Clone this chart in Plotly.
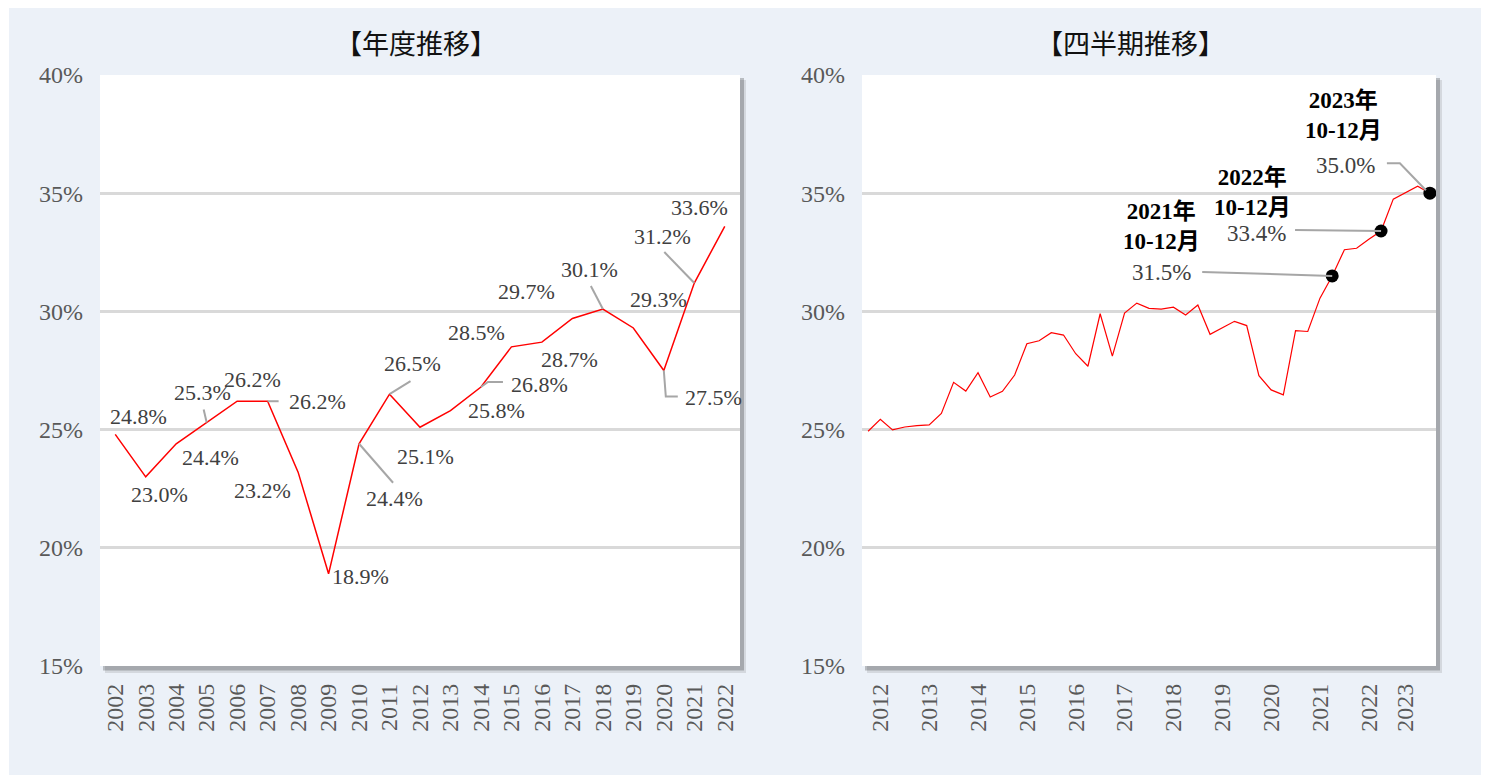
import plotly.graph_objects as go

W, H = 1490, 784

# ---------------- data ----------------
years = ["2002", "2003", "2004", "2005", "2006", "2007", "2008", "2009", "2010", "2011",
         "2012", "2013", "2014", "2015", "2016", "2017", "2018", "2019", "2020", "2021",
         "2022"]
annual = [24.8, 23.0, 24.4, 25.3, 26.2, 26.2, 23.2, 18.9, 24.4, 26.5, 25.1,
          25.8, 26.8, 28.5, 28.7, 29.7, 30.1, 29.3, 27.5, 31.2, 33.6]
annual_labels = [f"{v:.1f}%" for v in annual]

quarter_names = ["4-6月", "7-9月", "10-12月", "1-3月"]
quarters = []
for k in range(47):
    q = k % 4
    yr = 2012 + k // 4 + (1 if q == 3 else 0)
    quarters.append(f"{yr}年{quarter_names[q]}")
quarterly = [24.93, 25.44, 24.99, 25.11, 25.17, 25.20, 25.68, 27.00, 26.63, 27.41,
             26.38, 26.62, 27.31, 28.63, 28.76, 29.10, 29.00, 28.21, 27.68, 29.90,
             28.11, 29.93, 30.35, 30.13, 30.10, 30.18, 29.85, 30.27, 29.03, 29.31,
             29.58, 29.40, 27.28, 26.68, 26.47, 29.19, 29.15, 30.56, 31.50, 32.61,
             32.67, 33.05, 33.40, 34.75, 35.03, 35.30, 35.00]
q_tick_idx = [1, 5, 9, 13, 17, 21, 25, 29, 33, 37, 41, 44]
q_tick_text = ["2012", "2013", "2014", "2015", "2016", "2017", "2018", "2019",
               "2020", "2021", "2022", "2023"]
highlight_idx = [38, 42, 46]
highlight_titles = ["2021年<br>10-12月", "2022年<br>10-12月", "2023年<br>10-12月"]
highlight_labels = ["31.5%", "33.4%", "35.0%"]

y_ticks = [15, 20, 25, 30, 35, 40]
y_tick_text = ["15%", "20%", "25%", "30%", "35%", "40%"]

# ---------------- styling / layout positions ----------------
def px(x):
    return x / W

def py(y):
    return 1 - y / H

L_DOM = [px(100), px(740)]
R_DOM = [px(862), px(1436)]
Y_DOM = [py(666), py(75)]

SERIF = "Liberation Serif, Times New Roman, serif"
MIXED = "Liberation Serif, Noto Sans CJK JP, serif"
CJK = "Noto Sans CJK JP, sans-serif"
TXT = "#404040"
TICK = "#595959"
LEADER = "#A6A6A6"

fig = go.Figure()
fig.add_trace(go.Scatter(x=years, y=annual, mode="lines",
                         line=dict(color="#FF0000", width=1.5),
                         xaxis="x", yaxis="y", hoverinfo="skip", showlegend=False))
fig.add_trace(go.Scatter(x=quarters, y=quarterly, mode="lines",
                         line=dict(color="#FF0000", width=1.2),
                         xaxis="x2", yaxis="y2", hoverinfo="skip", showlegend=False))
fig.add_trace(go.Scatter(x=[quarters[i] for i in highlight_idx],
                         y=[quarterly[i] for i in highlight_idx], mode="markers",
                         marker=dict(color="#000000", size=13),
                         xaxis="x2", yaxis="y2", hoverinfo="skip", showlegend=False))

shapes = []
shapes.append(dict(type="rect", xref="paper", yref="paper", layer="below",
                   x0=px(9), x1=px(1481), y0=py(775), y1=py(8),
                   fillcolor="#ECF1F8", line=dict(width=0)))
for dom in (L_DOM, R_DOM):
    x0p, x1p = dom[0] * W, dom[1] * W
    shapes.append(dict(type="rect", xref="paper", yref="paper", layer="below",
                       x0=px(x0p + 5), x1=px(x1p + 6), y0=py(666 + 7), y1=py(75 + 5),
                       fillcolor="rgba(0,0,0,0.10)", line=dict(width=0)))
    shapes.append(dict(type="rect", xref="paper", yref="paper", layer="below",
                       x0=px(x0p + 3), x1=px(x1p + 4), y0=py(666 + 4.5), y1=py(75 + 3),
                       fillcolor="rgba(0,0,0,0.22)", line=dict(width=0)))
    shapes.append(dict(type="rect", xref="paper", yref="paper", layer="below",
                       x0=dom[0], x1=dom[1], y0=Y_DOM[0], y1=Y_DOM[1],
                       fillcolor="#FFFFFF", line=dict(width=0)))

annotations = []
annotations.append(dict(text="【年度推移】", xref="paper", yref="paper",
                        x=px(416), y=py(42), showarrow=False,
                        xanchor="center", yanchor="middle",
                        font=dict(family=CJK, size=27, color="#111111")))
annotations.append(dict(text="【四半期推移】", xref="paper", yref="paper",
                        x=px(1130), y=py(42), showarrow=False,
                        xanchor="center", yanchor="middle",
                        font=dict(family=CJK, size=27, color="#111111")))

lab_off = [(23, 18), (14, -18), (34, -14), (-4, 30), (15, 22), (50, 0), (-36, -18),
           (32, -3), (35, -55), (23, 31), (5, -29), (46, 0), (59, 3), (-35, 14),
           (28, -17), (-46, 27), (-13, 40), (25, 28), (50, -27), (-32, 47), (-25, 19)]
leaders = {3: "M0,0 L-3,13", 5: "M0,0 L11,0", 8: "M0,0 L34,-39", 9: "M0,0 L21,13",
           12: "M0,0 L7,5 L22,5", 16: "M0,0 L-12,23", 18: "M0,0 L2,-26 L14,-26",
           19: "M0,0 L-30,31"}
for i, (v, lab) in enumerate(zip(annual, annual_labels)):
    dx, dy = lab_off[i]
    annotations.append(dict(text=lab, x=i, y=v, xref="x", yref="y", showarrow=False,
                            xshift=dx, yshift=dy, xanchor="center", yanchor="middle",
                            font=dict(family=SERIF, size=22, color=TXT)))
    if i in leaders:
        shapes.append(dict(type="path", xref="x", yref="y", xsizemode="pixel",
                           ysizemode="pixel", xanchor=i, yanchor=v, path=leaders[i],
                           line=dict(color=LEADER, width=2)))

title_off = [(-171, 49), (-129, 39), (-86, 78)]
pct_off = [(-171, 3), (-125, -2), (-84, 28)]
r_leaders = ["M-130,4 L0,0", "M-86,1 L0,0", "M-43,30 L-30,30 L-4,3"]
for k, i in enumerate(highlight_idx):
    yv = quarterly[i]
    bold = "<b>" + highlight_titles[k].replace("<br>", "</b><br><b>") + "</b>"
    annotations.append(dict(text=bold, x=i, y=yv, xref="x2", yref="y2",
                            showarrow=False, xshift=title_off[k][0], yshift=title_off[k][1],
                            xanchor="center", yanchor="middle",
                            font=dict(family=MIXED, size=23, color="#000000")))
    annotations.append(dict(text=highlight_labels[k], x=i, y=yv, xref="x2", yref="y2",
                            showarrow=False, xshift=pct_off[k][0], yshift=pct_off[k][1],
                            xanchor="center", yanchor="middle",
                            font=dict(family=SERIF, size=23, color=TXT)))
    shapes.append(dict(type="path", xref="x2", yref="y2", xsizemode="pixel",
                       ysizemode="pixel", xanchor=i, yanchor=yv, path=r_leaders[k],
                       line=dict(color=LEADER, width=2)))

yaxis_common = dict(range=[15, 40], tickvals=y_ticks, ticktext=y_tick_text,
                    showgrid=True, gridcolor="#D9D9D9", gridwidth=3, zeroline=False,
                    showline=False, ticks="", ticklabelstandoff=16, automargin=False,
                    tickfont=dict(family=SERIF, size=24, color=TICK),
                    domain=Y_DOM, fixedrange=True)
xaxis_common = dict(type="category", showgrid=False, zeroline=False, showline=False,
                    ticks="", tickangle=-90, ticklabelstandoff=12, automargin=False,
                    tickfont=dict(family=SERIF, size=24, color=TICK), fixedrange=True)

fig.update_layout(
    template="none",
    width=W, height=H,
    margin=dict(l=0, r=0, t=0, b=0, pad=0),
    paper_bgcolor="#FFFFFF",
    plot_bgcolor="rgba(0,0,0,0)",
    showlegend=False,
    xaxis=dict(**xaxis_common, domain=L_DOM, range=[-0.5, 20.5], anchor="y"),
    yaxis=dict(**yaxis_common, anchor="x"),
    xaxis2=dict(**xaxis_common, domain=R_DOM, range=[-0.5, 46.5], anchor="y2",
                tickmode="array", tickvals=[quarters[i] for i in q_tick_idx],
                ticktext=q_tick_text),
    yaxis2=dict(**yaxis_common, anchor="x2"),
    shapes=shapes,
    annotations=annotations,
)

fig.write_html("out.html", config={"displayModeBar": False},
               post_script="document.body.style.margin='0';")
